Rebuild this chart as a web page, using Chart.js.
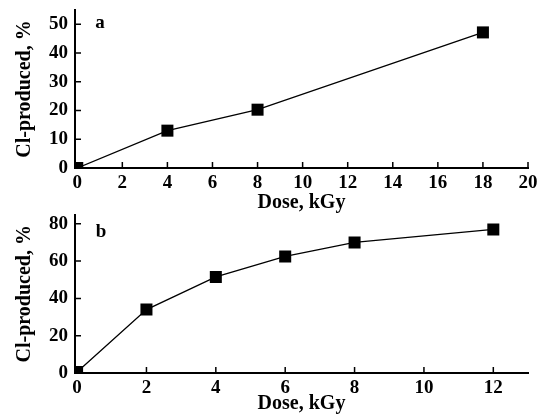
<!DOCTYPE html>
<html lang="en">
<head>
    <meta charset="UTF-8">
    <title>Cl-produced vs Dose</title>
    <script src="https://cdn.jsdelivr.net/npm/chart.js"></script>
    <style>
        body { margin: 0; background: #fff; }
        #wrap { position: relative; width: 537px; height: 416px; }
        canvas { position: absolute; left: 0; }
        #chartA { top: 0; }
        #chartB { top: 206px; }
    </style>
</head>
<body>
    <div id="wrap">
        <canvas id="chartA" width="537" height="216"></canvas>
        <canvas id="chartB" width="537" height="210"></canvas>
    </div>

    <script>
        // panel a
        const doseA = [0, 4, 8, 18];
        const clA = [0, 13, 20.3, 47.2];
        // panel b
        const doseB = [0, 2, 4, 6, 8, 12];
        const clB = [0.5, 34, 51.5, 62.5, 70, 77];

        const serif = "'Liberation Serif', 'Times New Roman', serif";
        const tickFont = { family: serif, size: 19, weight: 'bold' };
        const titleFont = { family: serif, size: 20, weight: 'bold' };

        // tick marks pointing into the plot
        const innerTicks = {
            id: 'innerTicks',
            beforeDatasetsDraw(chart) {
                const ctx = chart.ctx;
                const area = chart.chartArea;
                const len = 6;
                ctx.save();
                ctx.strokeStyle = '#000';
                ctx.lineWidth = 1.5;
                ctx.beginPath();
                chart.scales.x.ticks.forEach(t => {
                    const p = chart.scales.x.getPixelForValue(t.value);
                    ctx.moveTo(p, area.bottom);
                    ctx.lineTo(p, area.bottom - len);
                });
                chart.scales.y.ticks.forEach(t => {
                    const p = chart.scales.y.getPixelForValue(t.value);
                    ctx.moveTo(area.left, p);
                    ctx.lineTo(area.left + len, p);
                });
                ctx.stroke();
                ctx.restore();
            }
        };

        // panel letter
        const panelLabel = {
            id: 'panelLabel',
            afterDraw(chart, args, opts) {
                const ctx = chart.ctx;
                ctx.save();
                ctx.font = 'bold 19px ' + serif;
                ctx.fillStyle = '#000';
                ctx.textAlign = 'center';
                ctx.textBaseline = 'middle';
                ctx.fillText(opts.text, chart.chartArea.left + opts.dx, chart.chartArea.top + opts.dy);
                ctx.restore();
            }
        };

        function makeChart(id, xs, ys, cfg) {
            const points = xs.map((x, i) => ({ x: x, y: ys[i] }));
            return new Chart(document.getElementById(id), {
                type: 'line',
                data: {
                    datasets: [{
                        data: points,
                        borderColor: '#000',
                        borderWidth: 1.3,
                        backgroundColor: '#000',
                        pointStyle: 'rect',
                        pointRadius: 8.5,
                        pointBorderWidth: 0,
                        tension: 0
                    }]
                },
                options: {
                    responsive: false,
                    animation: false,
                    layout: { padding: { top: cfg.padTop, right: 9, left: 0, bottom: 0 } },
                    plugins: {
                        legend: { display: false },
                        tooltip: { enabled: false },
                        panelLabel: cfg.label
                    },
                    scales: {
                        x: {
                            type: 'linear',
                            min: cfg.xMin,
                            max: cfg.xMax,
                            grid: { display: false, drawTicks: false, tickLength: 0 },
                            border: { color: '#000', width: 2 },
                            ticks: {
                                stepSize: 2,
                                includeBounds: false,
                                color: '#000',
                                font: tickFont,
                                padding: 4,
                                maxRotation: 0
                            },
                            title: {
                                display: true,
                                text: 'Dose, kGy',
                                color: '#000',
                                font: titleFont,
                                padding: { top: 0, bottom: cfg.titlePad }
                            },
                            afterFit(scale) {
                                scale.height = cfg.xHeight;
                                scale.paddingLeft = 0;
                                scale.paddingRight = 0;
                            }
                        },
                        y: {
                            min: 0,
                            max: cfg.yMax,
                            grid: { display: false, drawTicks: false, tickLength: 0 },
                            border: { color: '#000', width: 2 },
                            ticks: {
                                stepSize: 10,
                                includeBounds: false,
                                color: '#000',
                                font: tickFont,
                                padding: 7,
                                callback: v => (v % cfg.yLabelEvery === 0 ? v : '')
                            },
                            title: {
                                display: true,
                                text: 'Cl-produced, %',
                                color: '#000',
                                font: titleFont,
                                padding: { top: 13, bottom: 0 }
                            },
                            afterFit(scale) {
                                scale.width = 75;
                                scale.paddingTop = 0;
                                scale.paddingBottom = 0;
                            }
                        }
                    }
                },
                plugins: [innerTicks, panelLabel]
            });
        }

        makeChart('chartA', doseA, clA, {
            padTop: 10, xMin: -0.1, xMax: 20, yMax: 55, yLabelEvery: 10,
            xHeight: 48, titlePad: 1,
            label: { text: 'a', dx: 25, dy: 13 }
        });

        makeChart('chartB', doseB, clB, {
            padTop: 7, xMin: -0.06, xMax: 13, yMax: 85, yLabelEvery: 20,
            xHeight: 43, titlePad: 0,
            label: { text: 'b', dx: 26, dy: 18 }
        });
    </script>
</body>
</html>
